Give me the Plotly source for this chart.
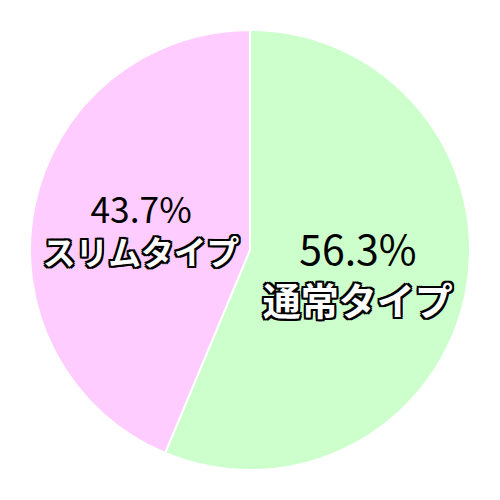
import plotly.graph_objects as go

labels = ['通常タイプ', 'スリムタイプ']
values = [56.3, 43.7]
colors = ['#ccffcc', '#ffccff']

outline = ', '.join(f'{dx}px {dy}px 0 #000' for dx, dy in
                    [(-2, -2), (2, -2), (-2, 2), (2, 2), (0, 2), (2, 0), (0, -2), (-2, 0)])

fig = go.Figure(go.Pie(
    labels=labels, values=values, sort=False, direction='clockwise',
    marker=dict(colors=colors, line=dict(color='white', width=2)),
    texttemplate=("<span style='font-size:41px'>%{percent:.1%}</span><br>"
                  f"<span style='color:white;font-weight:bold;text-shadow:{outline}'>"
                  '%{label}</span>'),
    textposition='inside', insidetextorientation='horizontal',
    textfont=dict(family='Noto Sans CJK JP', size=38, color='black'),
    hoverinfo='skip', showlegend=False,
))

fig.update_layout(
    width=500, height=500,
    margin=dict(l=22, r=38, t=22, b=38),
    paper_bgcolor='white',
    showlegend=False,
)

fig.write_html('out.html')
